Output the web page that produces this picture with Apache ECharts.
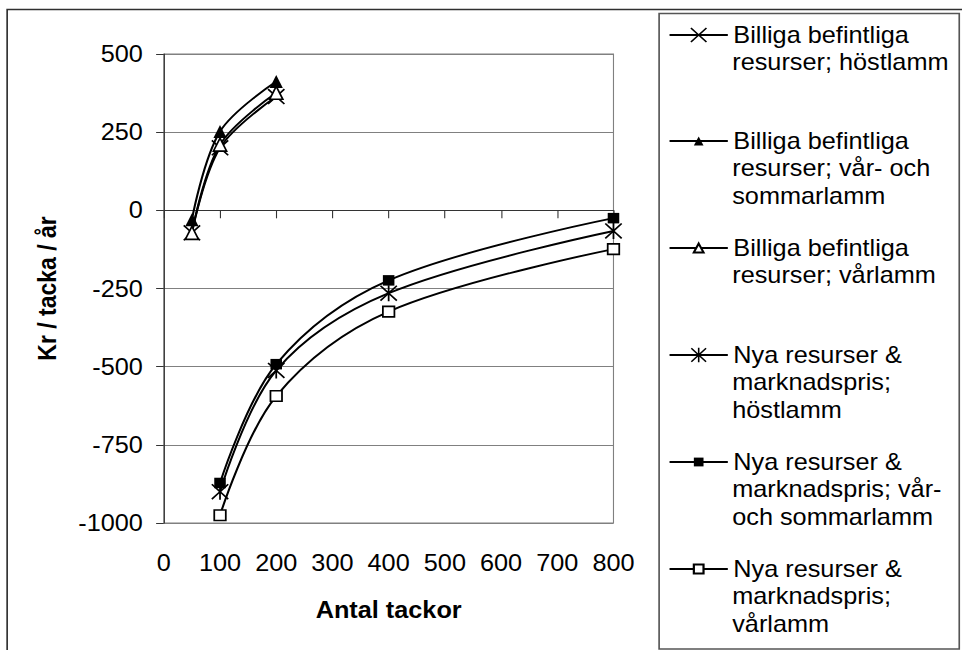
<!DOCTYPE html>
<html>
<head>
<meta charset="utf-8">
<script src="https://cdn.jsdelivr.net/npm/echarts@6/dist/echarts.min.js"></script>
<style>
  html, body { margin: 0; padding: 0; background: #fff; overflow: hidden; }
  /* The figure is drawn slightly narrower and widened by the stretch factor */
  #chart { width: 875px; height: 650px; transform: scaleX(1.09943); transform-origin: 0 0; }
</style>
</head>
<body>
<div id="chart"></div>
<script>
// Lönsamhet per tacka vid olika besättningsstorlekar
const xTicks = [0, 100, 200, 300, 400, 500, 600, 700, 800];
const yTicks = [-1000, -750, -500, -250, 0, 250, 500];

const antalBilliga = [50, 100, 200];
const antalNya = [100, 200, 400, 800];

const billigaHostlamm = [-72, 200, 364];
const billigaVarSommar = [-30, 252, 412];
const billigaVarlamm = [-72, 210, 376];
const nyaHostlamm = [-900, -512, -265, -66];
const nyaVarSommar = [-872, -492, -224, -25];
const nyaVarlamm = [-975, -594, -324, -124];

const seriesNames = [
  'Billiga befintliga\nresurser; höstlamm',
  'Billiga befintliga\nresurser; vår- och\nsommarlamm',
  'Billiga befintliga\nresurser; vårlamm',
  'Nya resurser &\nmarknadspris;\nhöstlamm',
  'Nya resurser &\nmarknadspris; vår-\noch sommarlamm',
  'Nya resurser &\nmarknadspris;\nvårlamm'
];

const FONT = "'Liberation Sans', Arial, sans-serif";
const FS = 23;

// Markörer: kryss och asterisk som fyllda konturer
const crossPath = 'path://M0,7 L7,0 L50,43 L93,0 L100,7 L57,50 L100,93 L93,100 L50,57 L7,100 L0,93 L43,50 Z';
const starPath = 'path://M0,7 L7,0 L50,43 L93,0 L100,7 L57,50 L100,93 L93,100 L50,57 L7,100 L0,93 L43,50 Z M45,0 L55,0 L55,100 L45,100 Z';

function pairs(xs, ys) {
  return xs.map((x, i) => [x, ys[i]]);
}

function lineSeries(name, xs, ys, symbol, size, filled) {
  return {
    name: name,
    type: 'line',
    smooth: 0.35,
    data: pairs(xs, ys),
    symbol: symbol,
    symbolSize: size,
    showAllSymbol: true,
    lineStyle: { color: '#000', width: 1.9 },
    itemStyle: filled
      ? { color: '#000', borderWidth: 0 }
      : { color: '#fff', borderColor: '#000', borderWidth: 1.6 },
    emphasis: { disabled: true },
    animation: false
  };
}

const series = [
  lineSeries(seriesNames[0], antalBilliga, billigaHostlamm, crossPath, 16, true),
  lineSeries(seriesNames[1], antalBilliga, billigaVarSommar, 'triangle', [12, 13], true),
  lineSeries(seriesNames[2], antalBilliga, billigaVarlamm, 'triangle', [12, 13], false),
  lineSeries(seriesNames[3], antalNya, nyaHostlamm, starPath, 16, true),
  lineSeries(seriesNames[4], antalNya, nyaVarSommar, 'rect', [10.5, 10.5], true),
  lineSeries(seriesNames[5], antalNya, nyaVarlamm, 'rect', [10.5, 10.5], false)
];

// Förklaring: en post per serie, första raden bredvid symbolen, övriga rader under
const LH = 27.3;
const firstLineY = [35, 141, 248, 355, 462, 569];
const iconHeights = [19, 11, 11, 18, 11, 11];
const LEG_LEFT = 608;
const LEG_ICON_W = 53;
const TEXT_X = LEG_LEFT + LEG_ICON_W + 5;

const legends = seriesNames.map((name, i) => ({
  data: [name],
  formatter: (n) => n.split('\n')[0],
  left: LEG_LEFT,
  top: firstLineY[i] - FS / 2,
  padding: 0,
  itemWidth: LEG_ICON_W,
  itemHeight: iconHeights[i],
  itemGap: 0,
  selectedMode: false,
  textStyle: { fontFamily: FONT, fontSize: FS, color: '#000' }
}));

const legendLines = [];
seriesNames.forEach((name, i) => {
  name.split('\n').slice(1).forEach((line, k) => {
    legendLines.push({
      type: 'text', silent: true, z: 10,
      x: TEXT_X, y: firstLineY[i] + (k + 1) * LH,
      style: { text: line, font: FS + 'px ' + FONT, fill: '#000', verticalAlign: 'middle', align: 'left' }
    });
  });
});

const chart = echarts.init(document.getElementById('chart'), null, { renderer: 'svg' });
chart.setOption({
  backgroundColor: '#fff',
  animation: false,
  grid: {
    left: 149, right: 317, top: 54, bottom: 127,
    show: true, borderColor: '#808080', borderWidth: 1, backgroundColor: 'transparent'
  },
  xAxis: {
    type: 'value',
    min: xTicks[0],
    max: xTicks[xTicks.length - 1],
    interval: 100,
    name: 'Antal tackor',
    nameLocation: 'middle',
    nameGap: 75,
    nameTextStyle: { fontFamily: FONT, fontSize: FS, fontWeight: 'bold', color: '#000' },
    axisLine: { show: true, lineStyle: { color: '#333', width: 1 } },
    axisTick: { show: true, length: 8, lineStyle: { color: '#333' } },
    axisLabel: { fontFamily: FONT, fontSize: FS, color: '#000', margin: 28 },
    splitLine: { show: false }
  },
  yAxis: {
    type: 'value',
    min: yTicks[0],
    max: yTicks[yTicks.length - 1],
    interval: 250,
    name: 'Kr / tacka / år',
    nameLocation: 'middle',
    nameGap: 95,
    nameRotate: 90,
    nameTextStyle: { fontFamily: FONT, fontSize: FS, fontWeight: 'bold', color: '#000' },
    axisLine: { show: true, lineStyle: { color: '#333', width: 1 } },
    axisTick: { show: true, length: 7, lineStyle: { color: '#333' } },
    axisLabel: { fontFamily: FONT, fontSize: FS, color: '#000', margin: 19, formatter: (v) => String(v) },
    splitLine: { show: true, lineStyle: { color: '#808080', width: 1 } }
  },
  legend: legends,
  graphic: [
    {
      type: 'rect', silent: true, z: -1,
      shape: { x: 6.5, y: 9.5, width: 1000, height: 700 },
      style: { fill: 'none', stroke: '#303030', lineWidth: 1.5 }
    },
    {
      type: 'rect', silent: true, z: -1,
      shape: { x: 599.5, y: 13.5, width: 273, height: 635.5 },
      style: { fill: '#fff', stroke: '#555', lineWidth: 1.5 }
    }
  ].concat(legendLines),
  series: series
});
</script>
</body>
</html>
